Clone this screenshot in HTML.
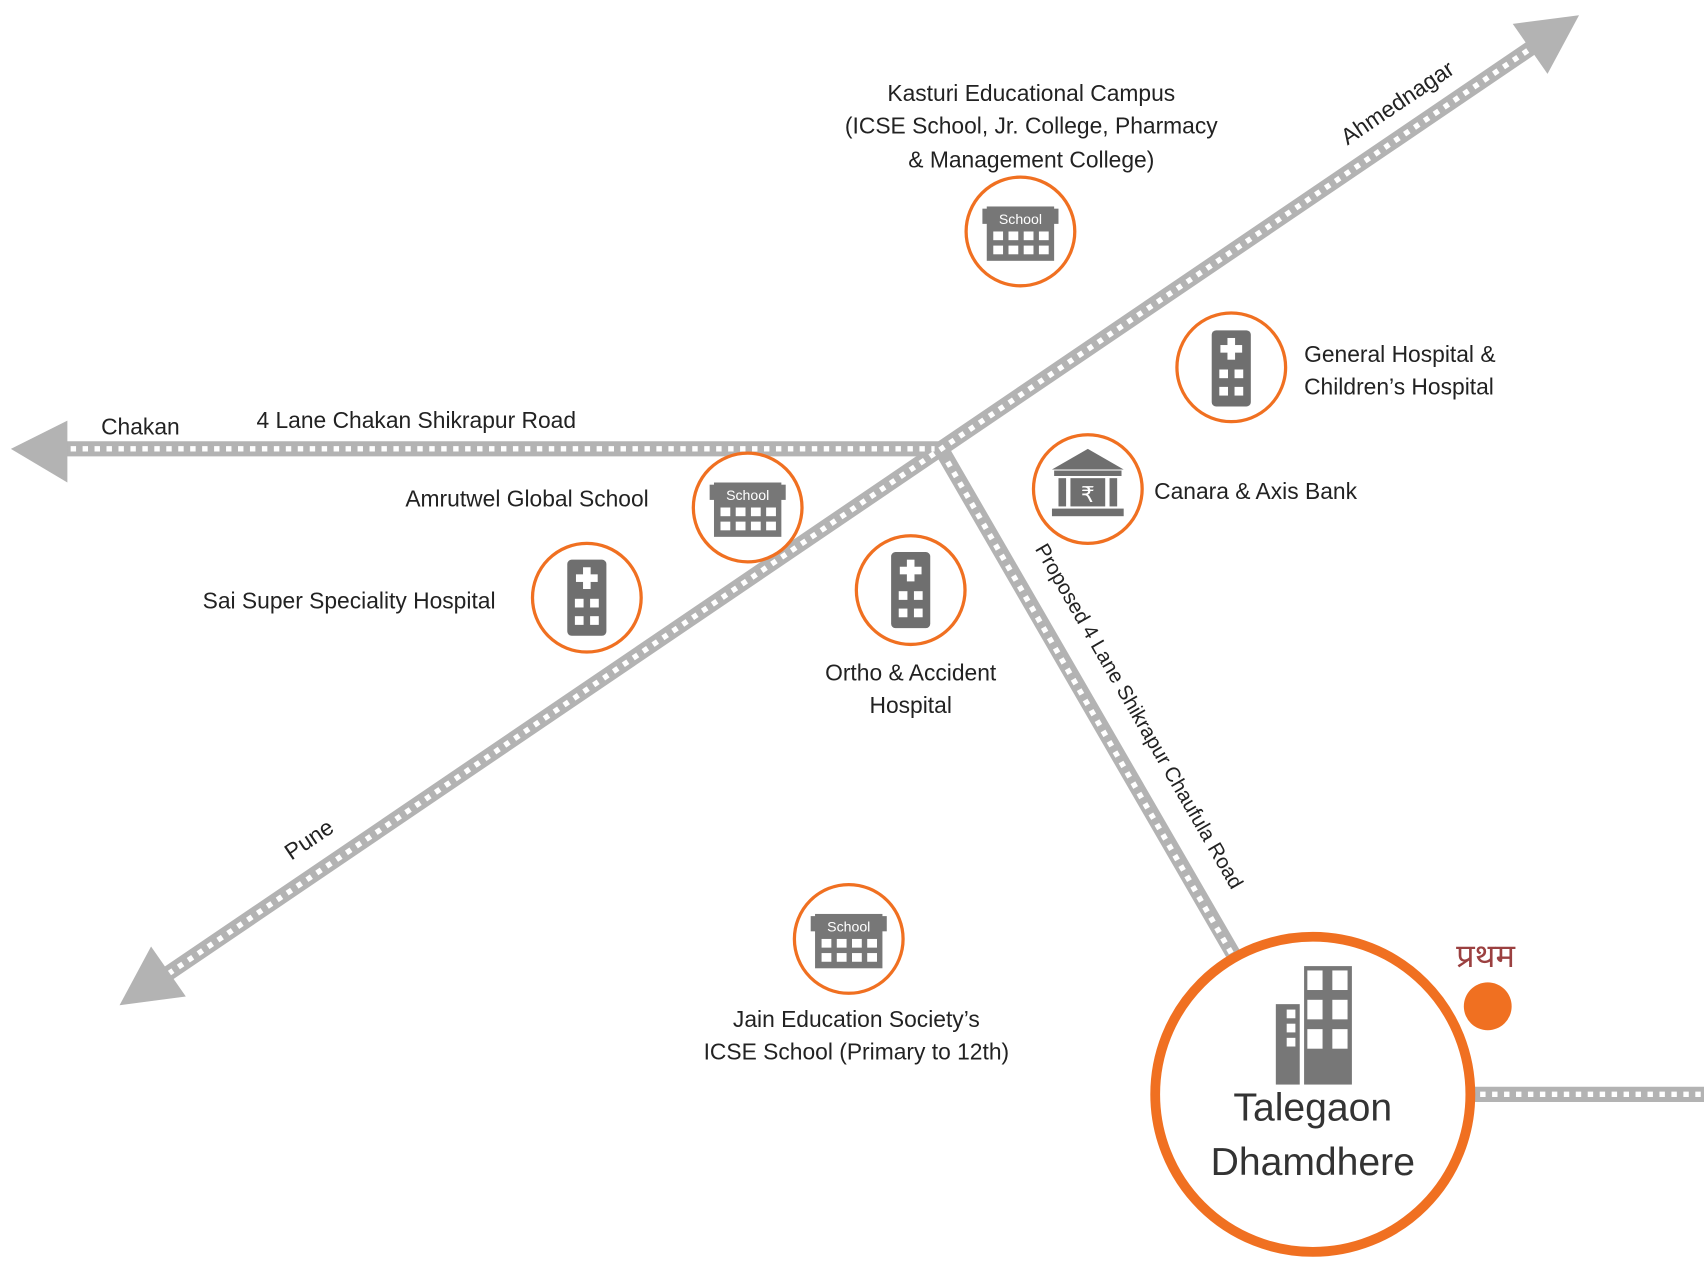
<!DOCTYPE html>
<html><head><meta charset="utf-8"><style>
html,body{margin:0;padding:0;background:#fff}
svg{display:block}
text{font-family:"Liberation Sans",sans-serif;fill:#222}
</style></head><body>
<svg width="1704" height="1278" viewBox="0 0 1568 1176" xmlns="http://www.w3.org/2000/svg">
<defs>
<g id="school">
<rect x="-35" y="-22" width="70" height="14" fill="#777"/>
<rect x="-31" y="-24" width="62" height="50" fill="#777"/>
<text x="0" y="-8" text-anchor="middle" font-size="13" style="fill:#fff;font-family:'Liberation Sans Narrow','Liberation Sans',sans-serif">School</text>
<g fill="#fff">
<rect x="-25" y="-1" width="9" height="8"/><rect x="-11" y="-1" width="9" height="8"/><rect x="3" y="-1" width="9" height="8"/><rect x="17" y="-1" width="9" height="8"/>
<rect x="-25" y="12" width="9" height="8"/><rect x="-11" y="12" width="9" height="8"/><rect x="3" y="12" width="9" height="8"/><rect x="17" y="12" width="9" height="8"/>
</g></g>
<g id="hosp">
<rect x="-18" y="-35" width="36" height="70" rx="4" fill="#6f6f6f"/>
<g fill="#fff"><rect x="-3.5" y="-28" width="7" height="20"/><rect x="-10" y="-21.5" width="20" height="7"/>
<rect x="-11" y="1" width="8" height="8"/><rect x="3" y="1" width="8" height="8"/>
<rect x="-11" y="17" width="8" height="8"/><rect x="3" y="17" width="8" height="8"/></g></g>
</defs>

<!-- roads -->
<g stroke="#b3b3b3" stroke-width="14" fill="none">
<line x1="60" y1="413" x2="866" y2="413"/>
<line x1="150" y1="899" x2="1412" y2="42"/>
<line x1="866" y1="413" x2="1136" y2="880"/>
<line x1="1355" y1="1007" x2="1568" y2="1007"/>
</g>
<g stroke="#fff" stroke-width="5" stroke-dasharray="5 6" fill="none">
<line x1="65" y1="413" x2="860" y2="413"/>
<line x1="155" y1="896" x2="1408" y2="45"/>
<line x1="872" y1="425" x2="1133" y2="877"/>
<line x1="1362" y1="1007" x2="1568" y2="1007"/>
</g>
<g fill="#b3b3b3">
<polygon points="10,413 62,387 62,444"/>
<polygon points="1453,14 1424,68 1392,22"/>
<polygon points="110,925 171,917 139,871"/>
</g>

<!-- circles -->
<g fill="#fff" stroke="#f07021" stroke-width="3">
<circle cx="939" cy="213" r="50"/>
<circle cx="1133" cy="338" r="50"/>
<circle cx="1001" cy="450" r="50"/>
<circle cx="688" cy="467" r="50"/>
<circle cx="540" cy="550" r="50"/>
<circle cx="838" cy="543" r="50"/>
<circle cx="781" cy="864" r="50"/>
</g>
<use href="#school" x="939" y="214"/>
<use href="#school" x="688" y="468"/>
<use href="#school" x="781" y="865"/>
<use href="#hosp" x="1133" y="339"/>
<use href="#hosp" x="540" y="550"/>
<use href="#hosp" x="838" y="543"/>
<!-- bank -->
<g fill="#6f6f6f">
<polygon points="1001,413 968,432 1034,432"/>
<rect x="970" y="433" width="62" height="5"/>
<rect x="974" y="440" width="7" height="26"/>
<rect x="1021" y="440" width="7" height="26"/>
<rect x="985" y="440" width="32" height="26"/>
<rect x="968" y="468" width="66" height="7"/>
</g>
<text x="1001" y="462" text-anchor="middle" font-size="20" style="fill:#fff;font-family:'DejaVu Sans',sans-serif">₹</text>

<!-- big circle -->
<circle cx="1208" cy="1007" r="145" fill="#fff" stroke="#f07021" stroke-width="9"/>
<g fill="#777">
<rect x="1174" y="924" width="22" height="74"/>
<rect x="1200" y="889" width="44" height="109"/>
</g>
<g fill="#fff">
<rect x="1184" y="929" width="8" height="8"/><rect x="1184" y="942" width="8" height="8"/><rect x="1184" y="955" width="8" height="8"/>
<rect x="1203" y="893" width="14" height="18"/><rect x="1226" y="893" width="14" height="18"/>
<rect x="1203" y="920" width="14" height="18"/><rect x="1226" y="920" width="14" height="18"/>
<rect x="1203" y="947" width="14" height="18"/><rect x="1226" y="947" width="14" height="18"/>
</g>
<text x="1208" y="1031" text-anchor="middle" font-size="36" style="fill:#333">Talegaon</text>
<text x="1208" y="1081" text-anchor="middle" font-size="36" style="fill:#333">Dhamdhere</text>
<circle cx="1369" cy="926" r="22" fill="#f07021"/>
<text x="1367" y="890" text-anchor="middle" font-size="30" style="fill:#9b4040;font-family:'Liberation Serif','Noto Sans CJK SC',serif">प्रथम</text>

<!-- labels -->
<g font-size="21">
<text x="949" y="93" text-anchor="middle">Kasturi Educational Campus</text>
<text x="949" y="123" text-anchor="middle">(ICSE School, Jr. College, Pharmacy</text>
<text x="949" y="154" text-anchor="middle">&amp; Management College)</text>
<text x="1200" y="333">General Hospital &amp;</text>
<text x="1200" y="363">Children’s Hospital</text>
<text x="1062" y="459">Canara &amp; Axis Bank</text>
<text x="597" y="466" text-anchor="end">Amrutwel Global School</text>
<text x="456" y="560" text-anchor="end">Sai Super Speciality Hospital</text>
<text x="838" y="626" text-anchor="middle">Ortho &amp; Accident</text>
<text x="838" y="656" text-anchor="middle">Hospital</text>
<text x="788" y="945" text-anchor="middle">Jain Education Society’s</text>
<text x="788" y="975" text-anchor="middle">ICSE School (Primary to 12th)</text>
<text x="93" y="400">Chakan</text>
<text x="236" y="394">4 Lane Chakan Shikrapur Road</text>
<text transform="translate(268,792) rotate(-34)">Pune</text>
<text transform="translate(1240,134) rotate(-34)">Ahmednagar</text>
<text transform="translate(952,505) rotate(60)" font-size="19">Proposed 4 Lane Shikrapur Chaufula Road</text>
</g>
</svg>
</body></html>
